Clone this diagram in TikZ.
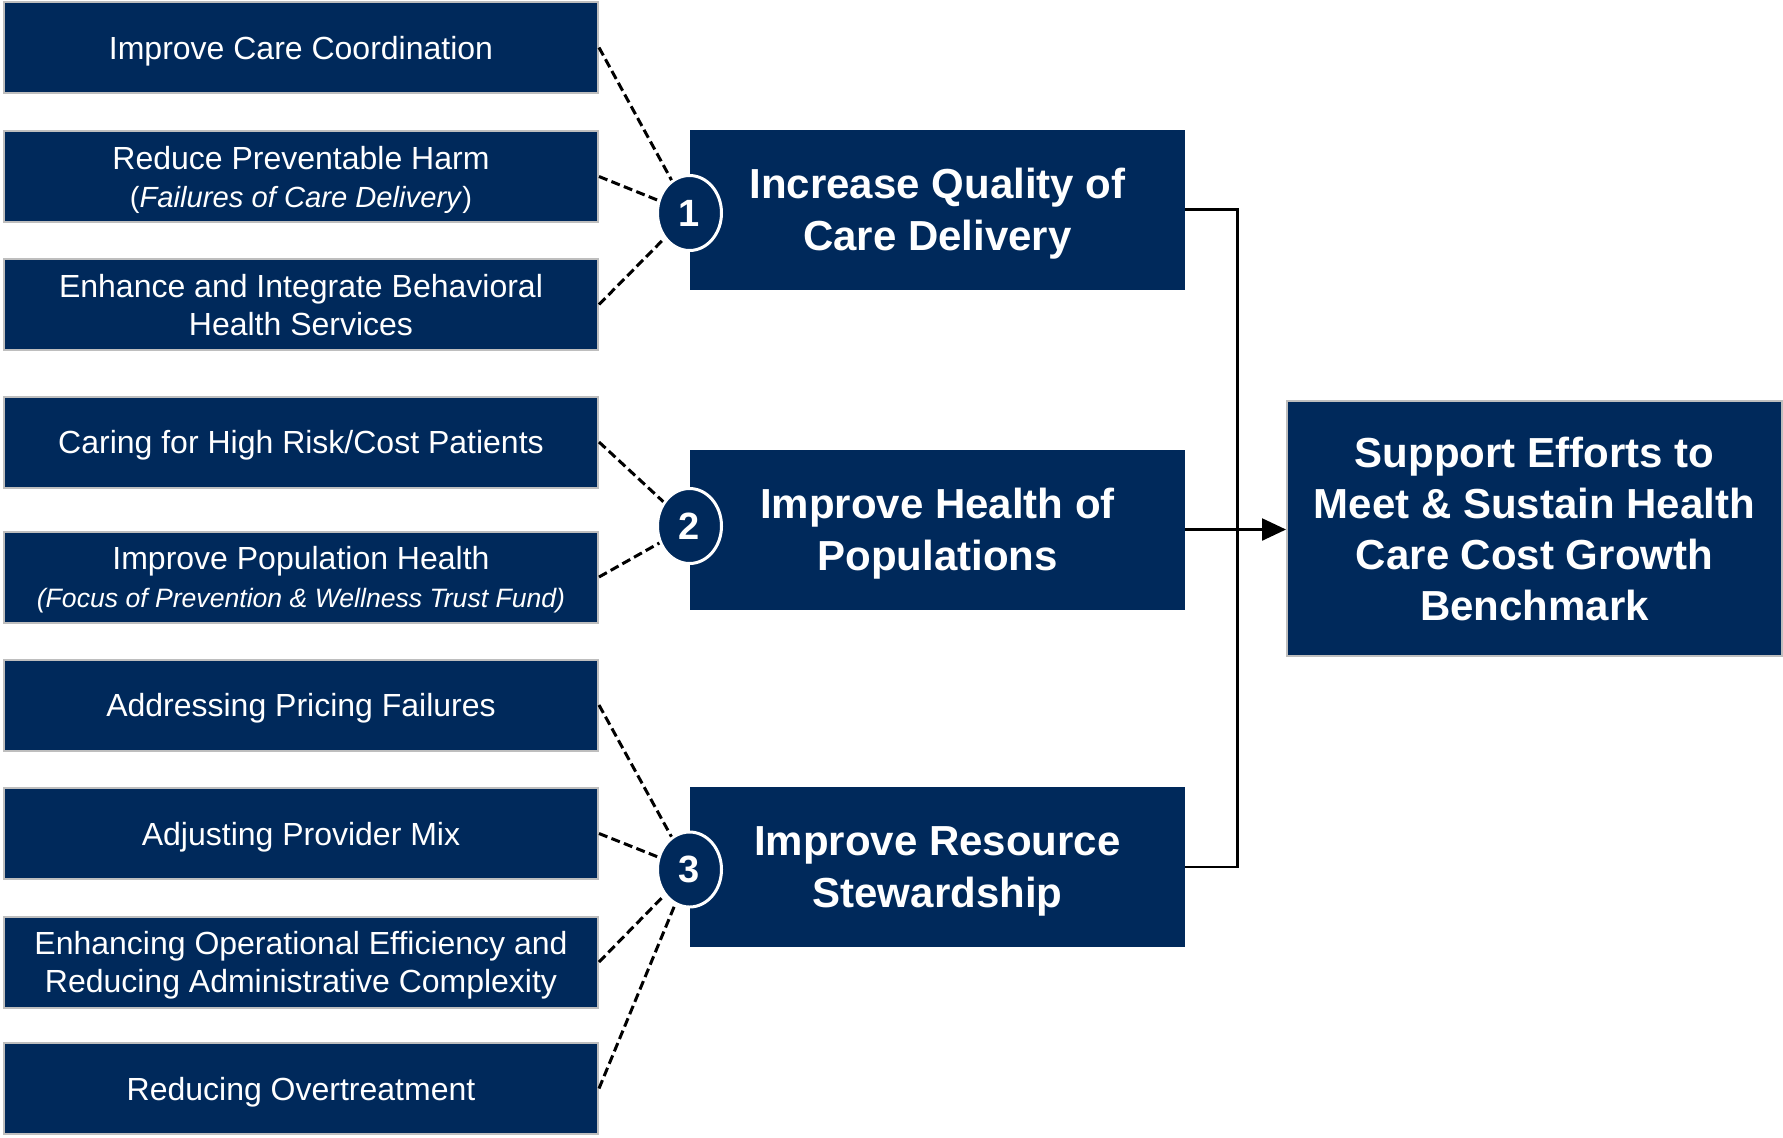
\documentclass[tikz,border=0pt]{standalone}
\usepackage{fontspec}
\setmainfont{Liberation Sans}
\usetikzlibrary{positioning, shapes.geometric, arrows.meta}
\definecolor{navy}{RGB}{0,41,91}
\definecolor{rimgray}{RGB}{190,190,190}

\begin{document}
\begin{tikzpicture}[x = 0.5pt, y = -0.5pt,
    every node/.style = { align = center, text = white, inner sep = 0pt },
    aim/.style = { fill = navy, draw = rimgray, line width = 1pt, minimum width = 297pt, minimum height = 45.5pt, text depth = -1pt, font = \fontsize{16}{19}\selectfont },
    goal/.style = { fill = navy, minimum width = 247.5pt, minimum height = 80pt, text depth = -3.2pt, font = \fontsize{21}{26}\selectfont\bfseries },
    badge/.style = { shape = ellipse, fill = navy, draw = white, line width = 1.5pt, minimum width = 32pt, minimum height = 37.5pt, font = \fontsize{19}{19}\selectfont\bfseries },
    link/.style = { line width = 1.5pt, dash pattern = on 4.5pt off 2.2pt }]
    \useasboundingbox (0,0) rectangle (1783,1137);
     \node [aim] (coord) at (301,47.5) {Improve Care Coordination};
     \node [aim] (harm) at (301,176.5) { Reduce Preventable Harm \\ {\fontsize{14.6}{19}\selectfont(\textit{Failures of Care Delivery})}};
     \node [aim] (behav) at (301,304.5) { Enhance and Integrate Behavioral \\ Health Services};
     \node [aim] (risk) at (301,442) {Caring for High Risk/Cost Patients};
     \node [aim] (popu) at (301,577) { Improve Population Health \\ {\fontsize{13.3}{17}\selectfont\itshape (Focus of Prevention \& Wellness Trust Fund)}};
     \node [aim] (price) at (301,705) {Addressing Pricing Failures};
     \node [aim] (mix) at (301,833.5) {Adjusting Provider Mix};
     \node [aim] (ops) at (301,962) { Enhancing Operational Efficiency and \\ Reducing Administrative Complexity};
     \node [aim] (overt) at (301,1088.5) {Reducing Overtreatment};

     \node [goal] (quality) at (937.5,209.5) { Increase Quality of \\ Care Delivery};
     \node [goal] (health) at (937.5,529.5) { Improve Health of \\ Populations};
     \node [goal] (steward) at (937.5,867) { Improve Resource \\ Stewardship};
     \node [goal, draw = rimgray, line width = 1pt, minimum height = 127.5pt, text depth = -1.4pt, font = \fontsize{21}{25.5}\selectfont\bfseries] (bench) at (1534.5,528.5) { Support Efforts to \\ Meet \& Sustain Health \\ Care Cost Growth \\ Benchmark};

     \node [badge] (n1) at (689.5,213) {1};
     \node [badge] (n2) at (689.5,526) {2};
     \node [badge] (n3) at (689.5,869.5) {3};

     \draw [link] (coord.east) -- (n1) (harm.east) -- (n1) (behav.east) -- (n1);
     \draw [link] (risk.east) -- (n2) (popu.east) -- (n2);
     \draw [link] (price.east) -- (n3) (mix.east) -- (n3) (ops.east) -- (n3) (overt.east) -- (n3);

     \draw [line width = 1.2pt] (quality.east) -- ++(52,0) |- (steward.east);
     \draw [line width = 1.2pt, -{Triangle[length = 12pt, width = 11pt]}] (health.east) -- (health.east -| bench.west);
    \end{tikzpicture}
\end{document}
